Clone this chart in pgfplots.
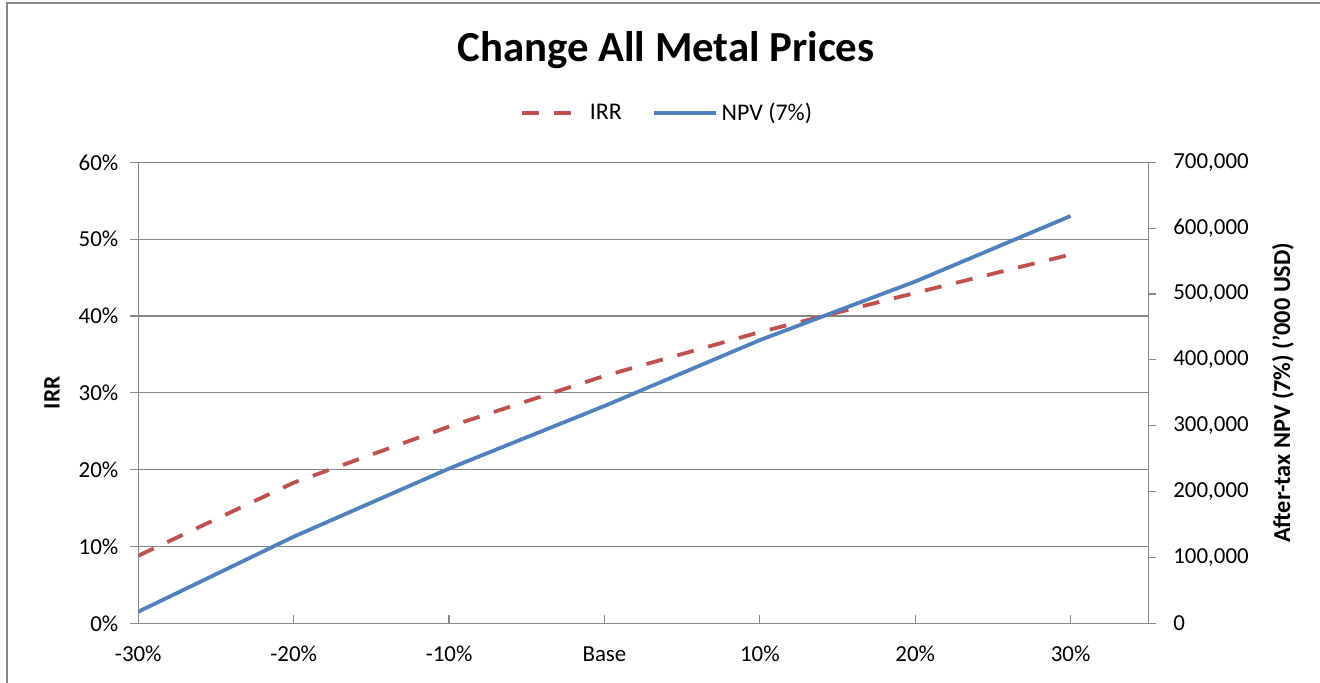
\documentclass[border=0pt]{standalone}
\usepackage{pgfplots}
\pgfplotsset{compat=1.18}
\usepackage{fontspec}
\setmainfont{Carlito}
\definecolor{irrred}{HTML}{C0504D}
\definecolor{npvblue}{HTML}{4F81BD}
\definecolor{gridgray}{HTML}{868686}
\begin{document}
\begin{tikzpicture}
\useasboundingbox (0,0) rectangle (660bp,341.5bp);
\draw[gridgray, line width=1bp] (3.5bp,0) -- (3.5bp,340bp) -- (660bp,340bp);
\node[anchor=base, font=\fontsize{21.5}{25}\selectfont\bfseries] at (333bp,310.5bp) {Change All Metal Prices};
\pgfplotsset{
  common/.style={
    at={(69.15bp,29.85bp)}, anchor=south west,
    scale only axis, width=505bp, height=230.5bp,
    xmin=0, xmax=6.5,
    major tick length=4bp,
    tick style={gridgray, line width=0.6bp},
    axis line style={gridgray, line width=0.6bp},
    tick label style={font=\fontsize{11.5}{13}\selectfont},
    label style={font=\fontsize{11.8}{14}\selectfont\bfseries},
  }
}
\begin{axis}[common,
  ymin=0, ymax=60,
  axis y line*=left, axis x line*=bottom,
  xtick={0,1,2,3,4,5,6},
  xticklabels={-30\%,-20\%,-10\%,Base,10\%,20\%,30\%},
  xtick align=inside, ytick align=outside,
  ytick={0,10,20,30,40,50,60},
  yticklabels={0\%,10\%,20\%,30\%,40\%,50\%,60\%},
  ymajorgrids, grid style={gridgray, line width=0.6bp},
  xticklabel style={yshift=-8bp},
  yticklabel style={xshift=-2.5bp},
  ylabel={IRR},
  ylabel style={at={(axis description cs:-0.0855,0.5)}, anchor=center, rotate=0},
]
\addplot[irrred, line width=1.9bp, dash pattern=on 8.5bp off 7.5bp] coordinates {
 (0,8.8) (1,18.3) (2,25.6) (3,32.2) (4,37.9) (5,43.0) (6,48.0)};
\end{axis}
\begin{axis}[common,
  ymin=0, ymax=700000,
  axis y line*=right, axis x line=none,
  ytick align=outside,
  scaled y ticks=false,
  ytick={0,100000,200000,300000,400000,500000,600000,700000},
  yticklabels={0,{100,000},{200,000},{300,000},{400,000},{500,000},{600,000},{700,000}},
  yticklabel style={xshift=5bp},
  ylabel={After-tax NPV (7\%) ('000 USD)},
  ylabel style={at={(axis description cs:1.1334,0.5)}, anchor=center, rotate=0, font=\fontsize{12.2}{14}\selectfont\bfseries},
  legend style={at={(0.5245,1.107)}, anchor=center, draw=none, fill=none,
    legend columns=2, font=\fontsize{12}{14}\selectfont,
    /tikz/every even column/.append style={column sep=13bp}},
  legend image code/.code={\draw[#1] (0bp,0bp) -- (31bp,0bp);},
]
\addlegendimage{irrred, line width=1.9bp, dash pattern=on 8.5bp off 7.5bp}
\addlegendentry{IRR}
\addplot[npvblue, line width=1.9bp] coordinates {
 (0,17600) (1,131500) (2,235000) (3,330000) (4,430000) (5,519000) (6,618500)};
\addlegendentry{NPV (7\%)}
\end{axis}
\end{tikzpicture}
\end{document}
